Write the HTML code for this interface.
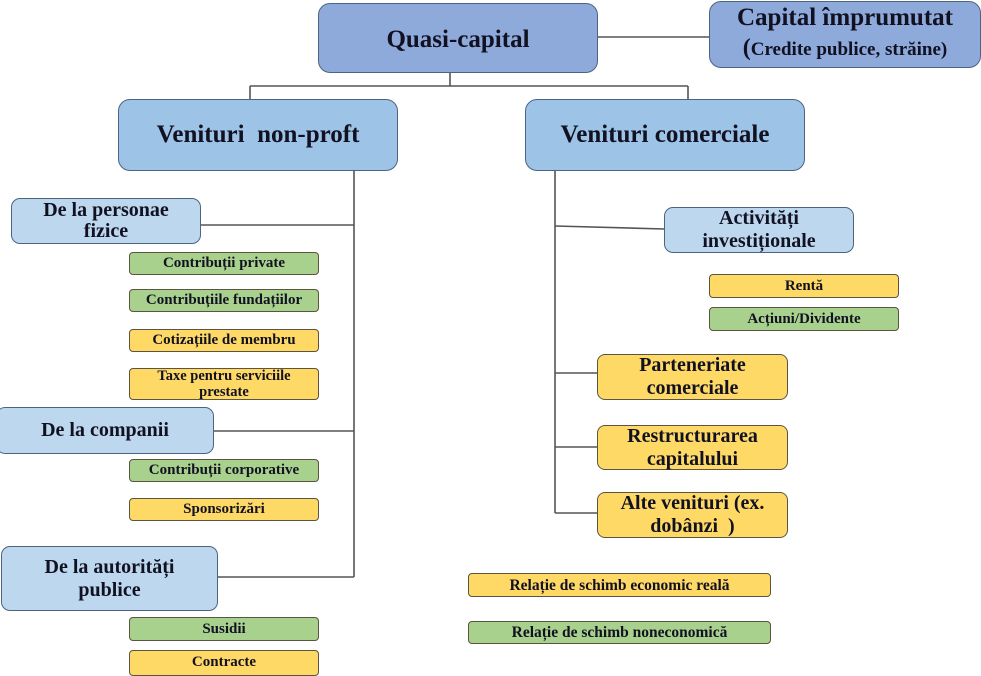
<!DOCTYPE html>
<html>
<head>
<meta charset="utf-8">
<style>
  html,body{margin:0;padding:0;background:#fff;}
  body{width:981px;height:670px;position:relative;overflow:hidden;
       font-family:"Liberation Serif","DejaVu Serif",serif;font-weight:bold;color:#111122;}
  .b{position:absolute;box-sizing:border-box;display:flex;align-items:center;justify-content:center;
     text-align:center;white-space:nowrap;}
  .big{border:1.5px solid #4d6480;border-radius:12px;}
  .q{background:#8eaadb;}
  .v{background:#9dc3e6;}
  .l{background:#bdd7ee;border:1.5px solid #4d6480;border-radius:9px;font-size:20px;line-height:21px;}
  .s{border:1.3px solid #5a5440;border-radius:4px;font-size:15px;line-height:15px;}
  .g{background:#a9d18e;}
  .y{background:#ffd966;}
  .m{background:#ffd966;border:1.3px solid #5a5440;border-radius:8px;font-size:20px;line-height:23px;}
  svg{position:absolute;left:0;top:0;}
</style>
</head>
<body>
<svg width="981" height="670">
  <g stroke="#555" stroke-width="1.6" fill="none">
    <line x1="597" y1="37" x2="709" y2="37"/>
    <line x1="450" y1="72" x2="450" y2="86"/>
    <line x1="250" y1="86" x2="688" y2="86"/>
    <line x1="250" y1="86" x2="250" y2="100"/>
    <line x1="688" y1="86" x2="688" y2="100"/>
    <line x1="354" y1="170" x2="354" y2="577"/>
    <line x1="200" y1="225" x2="354" y2="225"/>
    <line x1="213" y1="431" x2="354" y2="431"/>
    <line x1="217" y1="577" x2="354" y2="577"/>
    <line x1="555" y1="170" x2="555" y2="513"/>
    <line x1="555" y1="226" x2="664" y2="229"/>
    <line x1="555" y1="373" x2="597" y2="373"/>
    <line x1="555" y1="447" x2="597" y2="447"/>
    <line x1="555" y1="513" x2="597" y2="513"/>
  </g>
</svg>

<div class="b big q" style="left:318px;top:3px;width:280px;height:70px;font-size:25px;padding-top:4px;">Quasi-capital</div>
<div class="b big q" style="left:709px;top:1px;width:272px;height:67px;flex-direction:column;">
  <div style="font-size:25px;line-height:30px;margin-top:-1px;">Capital împrumutat</div>
  <div style="font-size:19px;line-height:30px;"><span style="font-size:24px;">(</span>Credite publice, străine)</div>
</div>

<div class="b big v" style="left:118px;top:99px;width:280px;height:72px;font-size:25px;white-space:pre;">Venituri  non-proft</div>
<div class="b big v" style="left:525px;top:99px;width:280px;height:72px;font-size:25px;">Venituri comerciale</div>

<div class="b l" style="left:11px;top:198px;width:190px;height:46px;">De la personae<br>fizice</div>
<div class="b s g" style="left:129px;top:252px;width:190px;height:23px;">Contribuții private</div>
<div class="b s g" style="left:129px;top:289px;width:190px;height:23px;">Contribuțiile fundațiilor</div>
<div class="b s y" style="left:129px;top:329px;width:190px;height:23px;">Cotizațiile de membru</div>
<div class="b s y" style="left:129px;top:368px;width:190px;height:32px;font-size:14.5px;line-height:16px;">Taxe pentru serviciile<br>prestate</div>

<div class="b l" style="left:-4px;top:407px;width:218px;height:47px;">De la companii</div>
<div class="b s g" style="left:129px;top:459px;width:190px;height:23px;">Contribuții corporative</div>
<div class="b s y" style="left:129px;top:498px;width:190px;height:23px;">Sponsorizări</div>

<div class="b l" style="left:1px;top:546px;width:217px;height:65px;line-height:23px;">De la autorități<br>publice</div>
<div class="b s g" style="left:129px;top:617px;width:190px;height:24px;">Susidii</div>
<div class="b s y" style="left:129px;top:650px;width:190px;height:26px;align-items:flex-start;padding-top:4px;">Contracte</div>

<div class="b l" style="left:664px;top:207px;width:190px;height:46px;line-height:23px;">Activități<br>investiționale</div>
<div class="b s y" style="left:709px;top:274px;width:190px;height:24px;">Rentă</div>
<div class="b s g" style="left:709px;top:307px;width:190px;height:24px;">Acțiuni/Dividente</div>

<div class="b m" style="left:597px;top:354px;width:191px;height:46px;">Parteneriate<br>comerciale</div>
<div class="b m" style="left:597px;top:425px;width:191px;height:45px;">Restructurarea<br>capitalului</div>
<div class="b m" style="left:597px;top:492px;width:191px;height:46px;">Alte venituri (ex.<br>dobânzi&nbsp; )</div>

<div class="b s y" style="left:468px;top:573px;width:303px;height:24px;font-size:15.5px;">Relație de schimb economic reală</div>
<div class="b s g" style="left:468px;top:621px;width:303px;height:23px;font-size:15.5px;">Relație de schimb noneconomică</div>
</body>
</html>
